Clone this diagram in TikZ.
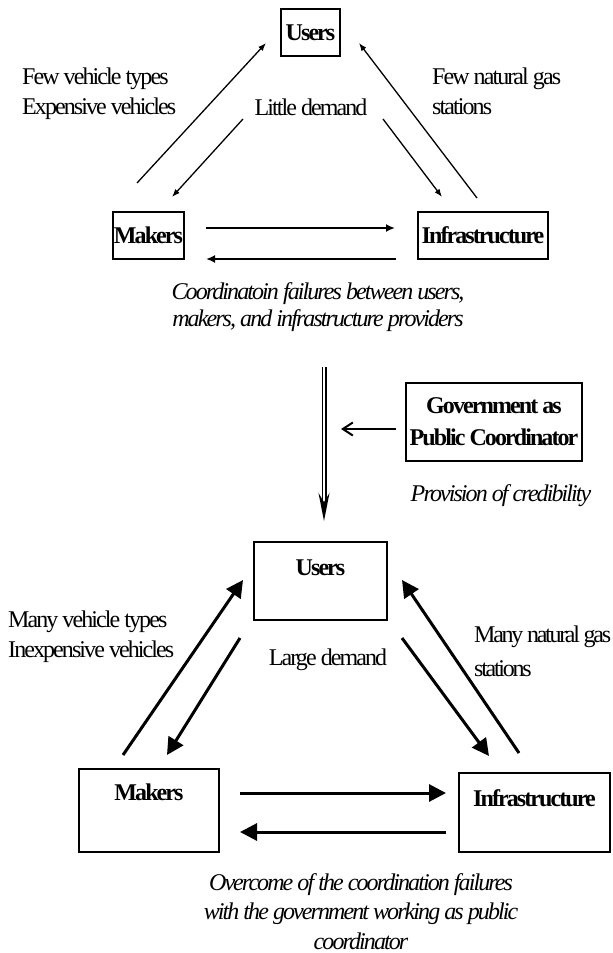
\documentclass[tikz,border=0pt]{standalone}
\usepackage{fontspec}
\setmainfont{Liberation Serif}[LetterSpace=-8]
\usetikzlibrary{arrows.meta}
\begin{document}
\begin{tikzpicture}[x=1pt,y=-1pt,
  txt/.style={inner sep=0pt, font=\fontsize{24}{30}\selectfont},
  itxt/.style={inner sep=0pt, align=center, font=\itshape\fontsize{24}{27}\selectfont},
  tbox/.style={draw, line width=1.1pt, inner sep=0pt, font=\bfseries\fontsize{24}{30}\selectfont},
  bbox/.style={draw, line width=2.6pt, inner sep=0pt, font=\bfseries\fontsize{24}{30}\selectfont},
  thin/.style={line width=1.3pt, -{Latex[length=8pt,width=6pt]}},
  thinh/.style={line width=2.2pt, -{Latex[length=9pt,width=8pt]}},
  thick/.style={line width=3pt, -{Triangle[length=17pt,width=17pt]}},
]
\useasboundingbox (0,0) rectangle (613,953);

% ---------- top diagram ----------
\node[tbox, minimum width=59pt, minimum height=47pt] (u1) at (310.5,32.5) {Users};
\node[tbox, minimum width=71pt, minimum height=47pt] (m1) at (148.5,235.5) {Makers};
\node[tbox, minimum width=130pt, minimum height=47pt] (i1) at (483,235.5) {Infrastructure};

\node[txt, anchor=base west, align=left] (l1) at (22,114) {Few vehicle types\\Expensive vehicles};
\node[txt, anchor=base] (l2) at (311,115) {Little demand};
\node[txt, anchor=base west, align=left] (l3) at (432,114) {Few natural gas\\stations};
\node[itxt, anchor=base] (c1) at (318,326) {Coordinatoin failures between users,\\makers, and infrastructure providers};

\coordinate (a1s) at (137,183);  \coordinate (a1e) at (266,43);
\coordinate (a2s) at (243,119);  \coordinate (a2e) at (172,197);
\coordinate (a3s) at (383,119);  \coordinate (a3e) at (442,197);
\coordinate (a4s) at (477,198);  \coordinate (a4e) at (359,43);
\coordinate (a5s) at (206,228);  \coordinate (a5e) at (395,228);
\coordinate (a6s) at (396,259);  \coordinate (a6e) at (206,259);
\draw[thin] (a1s) -- (a1e);
\draw[thin] (a2s) -- (a2e);
\draw[thin] (a3s) -- (a3e);
\draw[thin] (a4s) -- (a4e);
\draw[thinh] (a5s) -- (a5e);
\draw[thinh] (a6s) -- (a6e);

% ---------- middle ----------
\node[tbox, line width=1.3pt, align=center, minimum width=176pt, minimum height=78pt,
      font=\bfseries\fontsize{24}{32}\selectfont] (g) at (494,422) {Government as\\Public Coordinator};
\node[itxt, anchor=base] (p) at (501,501) {Provision of credibility};
\coordinate (ds) at (324,367); \coordinate (de) at (324,521);
\draw[double, double distance=2pt, line width=1.5pt, -{Stealth[length=28pt,width=11pt]}] (ds) -- (de);
\coordinate (gs) at (396,429); \coordinate (ge) at (341,429);
\draw[line width=2pt, -{Straight Barb[length=10pt,width=13pt]}] (gs) -- (ge);

% ---------- bottom diagram ----------
\node[bbox, anchor=base, minimum width=133pt, text height=33pt, text depth=45pt] (u2) at (320.5,575) {Users};
\node[bbox, anchor=base, minimum width=140pt, text height=31pt, text depth=52pt] (m2) at (149,800) {Makers};
\node[bbox, anchor=base, minimum width=151pt, text height=33pt, text depth=46pt] (i2) at (534.5,806) {Infrastructure};

\node[txt, anchor=base west, align=left] (l4) at (8,657) {Many vehicle types\\Inexpensive vehicles};
\node[txt, anchor=base] (l5) at (328,665) {Large demand};
\node[txt, anchor=base west, align=left, font=\fontsize{24}{34}\selectfont\addfontfeature{LetterSpace=-9.5}] (l6) at (474,676) {Many natural gas\\stations};
\node[itxt, anchor=base, font=\itshape\fontsize{24}{29.5}\selectfont] (c2) at (361,949) {Overcome of the coordination failures\\with the government working as public\\coordinator};

\coordinate (b1s) at (123,755);  \coordinate (b1e) at (243,580);
\coordinate (b2s) at (240,638);  \coordinate (b2e) at (167,755);
\coordinate (b3s) at (402,638);  \coordinate (b3e) at (489,756);
\coordinate (b4s) at (519,753);  \coordinate (b4e) at (402,580);
\coordinate (b5s) at (240,793);  \coordinate (b5e) at (446,793);
\coordinate (b6s) at (446,832);  \coordinate (b6e) at (240,832);
\draw[thick] (b1s) -- (b1e);
\draw[thick] (b2s) -- (b2e);
\draw[thick] (b3s) -- (b3e);
\draw[thick] (b4s) -- (b4e);
\draw[thick] (b5s) -- (b5e);
\draw[thick] (b6s) -- (b6e);
\end{tikzpicture}
\end{document}
